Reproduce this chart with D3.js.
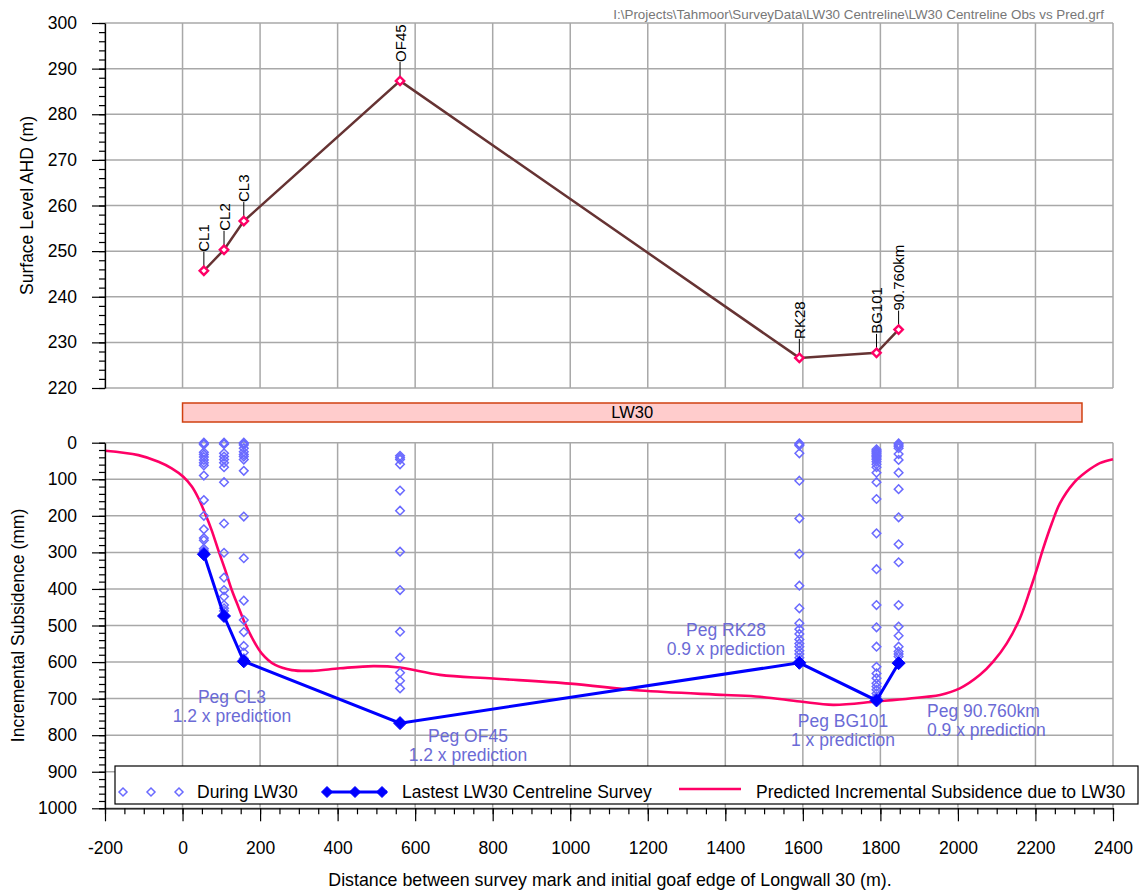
<!DOCTYPE html>
<html><head><meta charset="utf-8">
<script src="https://cdn.jsdelivr.net/npm/d3@7"></script>
<style>
body{margin:0;background:#fff;}
svg{display:block;font-family:"Liberation Sans",Arial,sans-serif;}
</style></head>
<body>
<svg id="chart" width="1144" height="893"></svg>
<script>
// ---- data ----
const pegNames = ["CL1","CL2","CL3","OF45","RK28","BG101","90.760km"];
const pegDistance = [55, 107, 158, 561, 1591, 1790, 1847];
const pegSurfaceLevel = [245.7, 250.3, 256.6, 287.3, 226.6, 227.7, 232.8];
const latestSurvey = [305, 474, 598, 767, 602, 705, 603];
const duringCL1 = [0, 2, 5, 26, 32, 39, 47, 55, 62, 90, 157, 200, 237, 261, 267, 290, 296];
const duringCL2 = [0, 2, 4, 29, 38, 46, 55, 67, 108, 221, 301, 369, 403, 421, 444, 453, 460];
const duringCL3 = [0, 3, 6, 15, 25, 32, 38, 46, 77, 202, 316, 432, 485, 518, 556, 574, 590];
const duringOF45 = [36, 41, 46, 59, 131, 186, 298, 403, 517, 588, 629, 651, 672];
const duringRK28 = [2, 4, 8, 29, 104, 207, 304, 391, 453, 494, 510, 523, 538, 549, 558, 569, 578, 588];
const duringBG101 = [18, 22, 25, 28, 31, 35, 38, 42, 46, 52, 59, 67, 82, 108, 154, 248, 346, 444, 505, 558, 613, 631, 644, 658, 667, 676, 686, 695];
const during90760 = [2, 6, 10, 15, 31, 47, 82, 127, 204, 278, 327, 444, 503, 528, 558, 571, 578, 585];
const duringByPeg = [duringCL1, duringCL2, duringCL3, duringOF45, duringRK28, duringBG101, during90760];
const predDistance = [-200,-114,-62,-28,2,24,41,58,75,92,110,127,144,161,178,204,239,282,333,406,492,561,664,801,1000,1180,1400,1490,1593,1678,1790,1919,1954,2005,2057,2091,2126,2160,2186,2203,2220,2242,2263,2298,2332,2366,2400];
const predSubsidence = [22,34,52,70,93,120,152,193,239,293,348,403,449,494,531,576,608,622,624,617,611,615,635,645,659,678,690,695,708,717,708,695,690,672,635,599,549,480,403,348,289,221,166,111,79,56,45];
const panelExtent = [0, 2320];
const panelLabel = "LW30";
const xTicks = d3.range(-200, 2401, 200);
const levelTicks = d3.range(220, 301, 10);
const subsTicks = d3.range(0, 1001, 100);
const annotations = [
  {lines:["Peg CL3","1.2 x prediction"]},
  {lines:["Peg OF45","1.2 x prediction"]},
  {lines:["Peg RK28","0.9 x prediction"]},
  {lines:["Peg BG101","1 x prediction"]},
  {lines:["Peg 90.760km","0.9 x prediction"]}
];
const legendLabels = ["During LW30","Lastest LW30 Centreline Survey","Predicted Incremental Subsidence due to LW30"];
const filePath = "I:\\Projects\\Tahmoor\\SurveyData\\LW30 Centreline\\LW30 Centreline Obs vs Pred.grf";

// ---- layout ----
const svg = d3.select("#chart");
const L = 105, R = 1113;
const topY0 = 23, topY1 = 388, botY0 = 442.7, botY1 = 808.3;
const x = d3.scaleLinear().domain([-200, 2400]).range([L, R]);
const yTop = d3.scaleLinear().domain([220, 300]).range([topY1, topY0]);
const yBot = d3.scaleLinear().domain([0, 1000]).range([botY0, botY1]);
const gridColor = "#a8a8a8";
const tickFont = "17.5px";
const plainFmt = d => String(d);

function diamond(g, cx, cy, r){
  return g.append("path").attr("d", `M${cx},${cy-r}L${cx+r},${cy}L${cx},${cy+r}L${cx-r},${cy}Z`);
}

// file path
svg.append("text").attr("x", 1104).attr("y", 19).attr("text-anchor","end")
  .attr("font-size","13.4px").attr("fill","#777").text(filePath);

// ---- top panel grid ----
const gTop = svg.append("g");
gTop.selectAll(".vg").data(xTicks).join("line")
  .attr("x1", d=>x(d)).attr("x2", d=>x(d)).attr("y1", topY0).attr("y2", topY1)
  .attr("stroke", gridColor).attr("stroke-width",1.5);
gTop.selectAll(".hg").data(levelTicks).join("line")
  .attr("x1", L).attr("x2", R).attr("y1", d=>yTop(d)).attr("y2", d=>yTop(d))
  .attr("stroke", gridColor).attr("stroke-width",1.5);

// top axis
const axTopMinor = svg.append("g").attr("transform",`translate(${L},0)`)
  .call(d3.axisLeft(yTop).tickValues(d3.range(220,300.1,2)).tickSize(6).tickFormat("").tickSizeOuter(0));
axTopMinor.select(".domain").remove();
const axTop = svg.append("g").attr("transform",`translate(${L},0)`)
  .call(d3.axisLeft(yTop).tickValues(levelTicks).tickFormat(plainFmt).tickSize(13).tickPadding(15).tickSizeOuter(0));
axTop.selectAll("text").attr("font-size", tickFont).attr("font-family","Liberation Sans, Arial").attr("fill","#000");
axTop.select(".domain").attr("stroke","#000").attr("stroke-width",1.3);
svg.selectAll(".tick line").attr("stroke","#000").attr("stroke-width",1.2);

svg.append("text").attr("transform",`translate(33,${(topY0+topY1)/2}) rotate(-90)`)
  .attr("text-anchor","middle").attr("font-size","17.5px").text("Surface Level AHD (m)");

// top line
const topPts = pegDistance.map((d,i)=>[d, pegSurfaceLevel[i]]);
svg.append("path").datum(topPts)
  .attr("d", d3.line().x(d=>x(d[0])).y(d=>yTop(d[1])))
  .attr("fill","none").attr("stroke","#663333").attr("stroke-width",2.5);
const gTopPts = svg.append("g");
topPts.forEach((p,i)=>{
  const px = x(p[0]), py = yTop(p[1]);
  gTopPts.append("line").attr("x1",px).attr("x2",px).attr("y1",py).attr("y2",py-19)
    .attr("stroke","#000").attr("stroke-width",1);
  diamond(gTopPts, px, py, 4.2).attr("fill","#fff").attr("stroke","#ff0066").attr("stroke-width",2.4);
  gTopPts.append("text").attr("transform",`translate(${px},${py-19}) rotate(-90)`)
    .attr("text-anchor","start").attr("dominant-baseline","central")
    .attr("font-size","15px").text(pegNames[i]);
});

// LW30 panel bar
svg.append("rect").attr("x", x(panelExtent[0])).attr("y", 403)
  .attr("width", x(panelExtent[1]) - x(panelExtent[0])).attr("height", 19)
  .attr("fill","#ffcccc").attr("stroke","#d04010").attr("stroke-width",1.5);
svg.append("text").attr("x", (x(panelExtent[0])+x(panelExtent[1]))/2).attr("y", 418)
  .attr("text-anchor","middle").attr("font-size","16.5px").text(panelLabel);

// ---- bottom panel grid ----
const gBot = svg.append("g");
gBot.selectAll(".vg").data(xTicks).join("line")
  .attr("x1", d=>x(d)).attr("x2", d=>x(d)).attr("y1", botY0).attr("y2", botY1)
  .attr("stroke", gridColor).attr("stroke-width",1.5);
gBot.selectAll(".hg").data(subsTicks).join("line")
  .attr("x1", L).attr("x2", R).attr("y1", d=>yBot(d)).attr("y2", d=>yBot(d))
  .attr("stroke", gridColor).attr("stroke-width",1.5);

// predicted curve
const predPts = predDistance.map((d,i)=>[d, predSubsidence[i]]);
svg.append("path").datum(predPts)
  .attr("d", d3.line().curve(d3.curveCatmullRom.alpha(0.5)).x(d=>x(d[0])).y(d=>yBot(d[1])))
  .attr("fill","none").attr("stroke","#ff0066").attr("stroke-width",2.6);

// during LW30 scatter
const gSc = svg.append("g");
duringByPeg.forEach((arr,i)=>{
  arr.forEach(v=>{
    diamond(gSc, x(pegDistance[i]), yBot(v), 4.3).attr("fill","none").attr("stroke","#6a6aff").attr("stroke-width",1.5);
  });
});

// latest survey
const latestPts = pegDistance.map((d,i)=>[d, latestSurvey[i]]);
svg.append("path").datum(latestPts)
  .attr("d", d3.line().x(d=>x(d[0])).y(d=>yBot(d[1])))
  .attr("fill","none").attr("stroke","#0000ff").attr("stroke-width",3);
latestPts.forEach(p=>{
  diamond(svg, x(p[0]), yBot(p[1]), 6.5).attr("fill","#0000ff").attr("stroke","#0000ff");
});

// annotations (pixel layout)
const annLayout = [
  {x:232, y:[703,722], anchor:"middle"},
  {x:468, y:[742,761], anchor:"middle"},
  {x:726, y:[636,655], anchor:"middle"},
  {x:843, y:[727,746], anchor:"middle"},
  {x:927, y:[717,736], anchor:"start"}
];
annotations.forEach((a,i)=>{
  const lay = annLayout[i];
  a.lines.forEach((t,j)=>{
    svg.append("text").attr("x",lay.x).attr("y",lay.y[j]).attr("text-anchor",lay.anchor)
      .attr("font-size","17.5px").attr("fill","#6b6bd6").text(t);
  });
});

// bottom axes minor
const axBotMinor = svg.append("g").attr("transform",`translate(${L},0)`)
  .call(d3.axisLeft(yBot).tickValues(d3.range(0,1000.1,20)).tickSize(6).tickFormat("").tickSizeOuter(0));
axBotMinor.select(".domain").remove();
const axXMinor = svg.append("g").attr("transform",`translate(0,${botY1})`)
  .call(d3.axisBottom(x).tickValues(d3.range(-200,2400.1,50)).tickSize(6).tickFormat("").tickSizeOuter(0));
axXMinor.select(".domain").remove();

// legend
const lg = svg.append("g");
lg.append("rect").attr("x",115).attr("y",766).attr("width",1023).attr("height",38)
  .attr("fill","#fff").attr("stroke","#000").attr("stroke-width",1.2);
[123,151,179].forEach(cx=>{
  diamond(lg, cx, 792, 4).attr("fill","none").attr("stroke","#6a6aff").attr("stroke-width",1.5);
});
lg.append("text").attr("x",197).attr("y",798).attr("font-size","17.5px").text(legendLabels[0]);
lg.append("line").attr("x1",323).attr("x2",387).attr("y1",792).attr("y2",792).attr("stroke","#0000ff").attr("stroke-width",3);
[327,355,382].forEach(cx=>{
  diamond(lg, cx, 792, 5.5).attr("fill","#0000ff").attr("stroke","#0000ff");
});
lg.append("text").attr("x",402).attr("y",798).attr("font-size","17.5px").text(legendLabels[1]);
lg.append("line").attr("x1",679).attr("x2",741).attr("y1",789).attr("y2",789).attr("stroke","#ff0066").attr("stroke-width",2.6);
lg.append("text").attr("x",756).attr("y",798).attr("font-size","17.5px").text(legendLabels[2]);

const axBot = svg.append("g").attr("transform",`translate(${L},0)`)
  .call(d3.axisLeft(yBot).tickValues(subsTicks).tickFormat(plainFmt).tickSize(13).tickPadding(15).tickSizeOuter(0));
axBot.selectAll("text").attr("font-size", tickFont).attr("font-family","Liberation Sans, Arial").attr("fill","#000");
axBot.select(".domain").attr("stroke","#000").attr("stroke-width",1.3);

const axX = svg.append("g").attr("transform",`translate(0,${botY1})`)
  .call(d3.axisBottom(x).tickValues(xTicks).tickFormat(plainFmt).tickSize(13).tickPadding(20).tickSizeOuter(0));
axX.selectAll("text").attr("font-size", tickFont).attr("font-family","Liberation Sans, Arial").attr("fill","#000");
axX.select(".domain").attr("stroke","#000").attr("stroke-width",1.3);
svg.selectAll(".tick line").attr("stroke","#000").attr("stroke-width",1.2);

svg.append("text").attr("transform",`translate(24,${(botY0+botY1)/2}) rotate(-90)`)
  .attr("text-anchor","middle").attr("font-size","17.5px").text("Incremental Subsidence (mm)");
svg.append("text").attr("x",610).attr("y",886).attr("text-anchor","middle")
  .attr("font-size","17.8px").text("Distance between survey mark and initial goaf edge of Longwall 30 (m).");
</script>
</body></html>
